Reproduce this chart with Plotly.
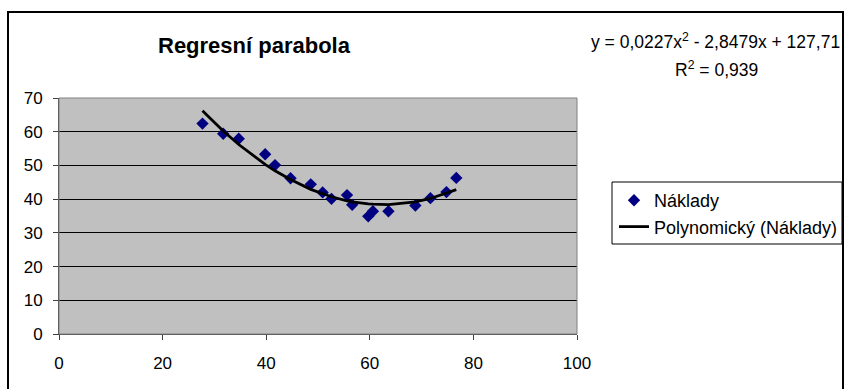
import plotly.graph_objects as go

# Data
x_vals = [27.7, 31.7, 34.7, 39.8, 41.7, 44.7, 48.6, 50.9, 52.6, 55.6, 56.6, 59.7, 60.6, 63.6, 68.8, 71.7, 74.8, 76.7]
naklady = [62.4, 59.4, 57.9, 53.3, 50.1, 46.2, 44.4, 42.0, 40.1, 41.2, 38.3, 34.9, 36.4, 36.4, 38.1, 40.3, 42.1, 46.3]
trend = [66.2, 60.2, 56.2, 50.3, 48.4, 45.8, 42.9, 41.6, 40.7, 39.5, 39.2, 38.6, 38.5, 38.4, 39.2, 40.2, 41.7, 42.8]
x_ticks = [0, 20, 40, 60, 80, 100]
y_ticks = [0, 10, 20, 30, 40, 50, 60, 70]

FONT = "Liberation Sans, Arial, sans-serif"
W, H = 846, 389
L, R, T, B = 59, 269, 98, 55
PW, PH = W - L - R, H - T - B


def px_x(p):
    return (p - L) / PW


def px_y(p):
    return (H - B - p) / PH


fig = go.Figure()
fig.add_trace(go.Scatter(
    x=x_vals, y=naklady, mode="markers", name="Náklady",
    marker=dict(symbol="diamond", size=9.5, color="#000080"),
))
fig.add_trace(go.Scatter(
    x=x_vals, y=trend, mode="lines", name="Polynomický (Náklady)",
    line=dict(color="black", width=2.8),
))

fig.update_layout(
    width=W, height=H,
    margin=dict(l=L, r=R, t=T, b=B, autoexpand=False),
    paper_bgcolor="white",
    plot_bgcolor="#C0C0C0",
    font=dict(family=FONT, size=17, color="black"),
    showlegend=True,
    legend=dict(
        x=px_x(614), y=px_y(182), xanchor="left", yanchor="top",
        borderwidth=0, bgcolor="rgba(0,0,0,0)",
        font=dict(family=FONT, size=18, color="black"),
        tracegroupgap=0,
    ),
    xaxis=dict(
        range=[0, 100], tickvals=x_ticks, showgrid=False, zeroline=False,
        showline=True, linecolor="#404040", linewidth=1, mirror=False,
        ticks="outside", ticklen=5, tickcolor="#404040",
        tickfont=dict(size=17), fixedrange=True, ticklabelstandoff=9,
    ),
    yaxis=dict(
        range=[0, 70], tickvals=y_ticks, showgrid=True, gridcolor="black", gridwidth=1,
        zeroline=False, showline=True, linecolor="#404040", linewidth=1,
        ticks="outside", ticklen=5, tickcolor="#404040",
        tickfont=dict(size=17), fixedrange=True, ticklabelstandoff=7,
    ),
    shapes=[
        dict(type="rect", xref="paper", yref="paper", x0=0, x1=1, y0=0, y1=1,
             line=dict(color="#808080", width=1), layer="above"),
        dict(type="rect", xref="paper", yref="paper",
             x0=px_x(8), x1=px_x(843), y0=px_y(12), y1=px_y(400),
             line=dict(color="black", width=2)),
        dict(type="rect", xref="paper", yref="paper",
             x0=px_x(612), x1=px_x(842), y0=px_y(182), y1=px_y(244),
             line=dict(color="black", width=1), fillcolor="white", layer="below"),
    ],
    annotations=[
        dict(text="<b>Regresní parabola</b>", xref="paper", yref="paper",
             x=px_x(254), y=px_y(46), xanchor="center", yanchor="middle",
             showarrow=False, font=dict(family=FONT, size=22, color="black")),
        dict(text="y = 0,0227x<sup>2</sup> - 2,8479x + 127,71", xref="paper", yref="paper",
             x=px_x(842), y=px_y(41), xanchor="right", yanchor="middle",
             showarrow=False, font=dict(family=FONT, size=17.5, color="black")),
        dict(text="R<sup>2</sup> = 0,939", xref="paper", yref="paper",
             x=px_x(716), y=px_y(69), xanchor="center", yanchor="middle",
             showarrow=False, font=dict(family=FONT, size=17.5, color="black")),
    ],
)

fig.write_html("out.html")
